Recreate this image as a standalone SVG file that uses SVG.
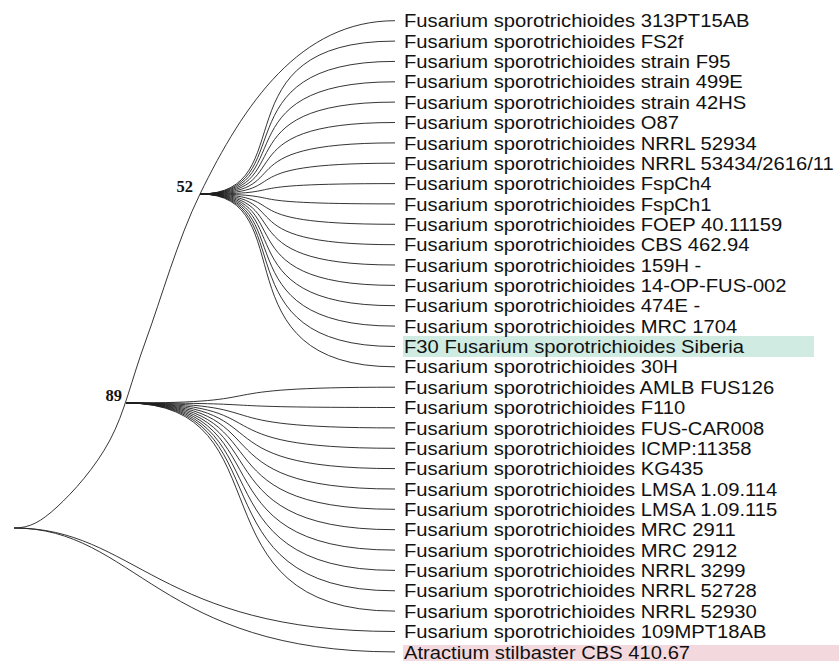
<svg xmlns="http://www.w3.org/2000/svg" width="839" height="661" viewBox="0 0 839 661">
<style>
.br{fill:none;stroke:#1e1e1e;stroke-width:0.9}
.lb{font-family:"Liberation Sans",Arial,sans-serif;font-size:18.7px;fill:#111}
.sup{font-family:"Liberation Serif","Times New Roman",serif;font-size:16.5px;font-weight:bold;fill:#111;text-anchor:end}
</style>
<rect width="839" height="661" fill="#fff"/>
<rect id="hl-green" x="403" y="336" width="411" height="21" fill="#d0ece2"/>
<rect id="hl-pink" x="403" y="645" width="436" height="16" fill="#f3d9de"/>
<g id="connectors">
<path class="br" d="M14,528 C30,528 41,521.7 57,507 C73,492.3 95.2,467.8 110,440 C124.8,412.2 131,381 146,340 C161,299 177.7,239.5 200,194 C244,104 300,20.7 395,20.7"/>
<path class="br" d="M200,194 C304,194 215,41.1 395,41.1"/>
<path class="br" d="M200,194 C304,194 215,61.4 395,61.4"/>
<path class="br" d="M200,194 C304,194 215,81.8 395,81.8"/>
<path class="br" d="M200,194 C304,194 215,102.1 395,102.1"/>
<path class="br" d="M200,194 C304,194 215,122.5 395,122.5"/>
<path class="br" d="M200,194 C304,194 215,142.9 395,142.9"/>
<path class="br" d="M200,194 C304,194 215,163.2 395,163.2"/>
<path class="br" d="M200,194 C304,194 215,183.6 395,183.6"/>
<path class="br" d="M200,194 C304,194 215,203.9 395,203.9"/>
<path class="br" d="M200,194 C304,194 215,224.3 395,224.3"/>
<path class="br" d="M200,194 C304,194 215,244.7 395,244.7"/>
<path class="br" d="M200,194 C304,194 215,265 395,265"/>
<path class="br" d="M200,194 C304,194 215,285.4 395,285.4"/>
<path class="br" d="M200,194 C304,194 215,305.7 395,305.7"/>
<path class="br" d="M200,194 C304,194 215,326.1 395,326.1"/>
<path class="br" d="M200,194 C304,194 215,346.5 395,346.5"/>
<path class="br" d="M200,194 C304,194 215,366.8 395,366.8"/>
<path class="br" d="M126,403 C289.5,403 186.5,387.2 395,387.2"/>
<path class="br" d="M126,403 C289.5,403 186.5,407.5 395,407.5"/>
<path class="br" d="M126,403 C289.5,403 186.5,427.9 395,427.9"/>
<path class="br" d="M126,403 C289.5,403 186.5,448.3 395,448.3"/>
<path class="br" d="M126,403 C289.5,403 186.5,468.6 395,468.6"/>
<path class="br" d="M126,403 C289.5,403 186.5,489 395,489"/>
<path class="br" d="M126,403 C289.5,403 186.5,509.3 395,509.3"/>
<path class="br" d="M126,403 C289.5,403 186.5,529.7 395,529.7"/>
<path class="br" d="M126,403 C289.5,403 186.5,550.1 395,550.1"/>
<path class="br" d="M126,403 C289.5,403 186.5,570.4 395,570.4"/>
<path class="br" d="M126,403 C289.5,403 186.5,590.8 395,590.8"/>
<path class="br" d="M126,403 C289.5,403 186.5,611.1 395,611.1"/>
<path class="br" d="M14,528 C135,528 158,631.5 395,631.5"/>
<path class="br" d="M14,528 C135,528 158,651.9 395,651.9"/>
</g>
<g id="node-52"><text class="sup" x="193" y="191.5">52</text></g>
<g id="node-89"><text class="sup" x="122" y="400.5">89</text></g>
<g id="leaves" transform="translate(404 0) scale(1.08 1)">
<g id="leaf-0"><text class="lb" x="0" y="27.4">Fusarium sporotrichioides 313PT15AB</text></g>
<g id="leaf-1"><text class="lb" x="0" y="47.8">Fusarium sporotrichioides FS2f</text></g>
<g id="leaf-2"><text class="lb" x="0" y="68.1">Fusarium sporotrichioides strain F95</text></g>
<g id="leaf-3"><text class="lb" x="0" y="88.5">Fusarium sporotrichioides strain 499E</text></g>
<g id="leaf-4"><text class="lb" x="0" y="108.8">Fusarium sporotrichioides strain 42HS</text></g>
<g id="leaf-5"><text class="lb" x="0" y="129.2">Fusarium sporotrichioides O87</text></g>
<g id="leaf-6"><text class="lb" x="0" y="149.6">Fusarium sporotrichioides NRRL 52934</text></g>
<g id="leaf-7"><text class="lb" x="0" y="169.9">Fusarium sporotrichioides NRRL 53434/2616/11</text></g>
<g id="leaf-8"><text class="lb" x="0" y="190.3">Fusarium sporotrichioides FspCh4</text></g>
<g id="leaf-9"><text class="lb" x="0" y="210.6">Fusarium sporotrichioides FspCh1</text></g>
<g id="leaf-10"><text class="lb" x="0" y="231">Fusarium sporotrichioides FOEP 40.11159</text></g>
<g id="leaf-11"><text class="lb" x="0" y="251.4">Fusarium sporotrichioides CBS 462.94</text></g>
<g id="leaf-12"><text class="lb" x="0" y="271.7">Fusarium sporotrichioides 159H -</text></g>
<g id="leaf-13"><text class="lb" x="0" y="292.1">Fusarium sporotrichioides 14-OP-FUS-002</text></g>
<g id="leaf-14"><text class="lb" x="0" y="312.4">Fusarium sporotrichioides 474E -</text></g>
<g id="leaf-15"><text class="lb" x="0" y="332.8">Fusarium sporotrichioides MRC 1704</text></g>
<g id="leaf-16"><text class="lb" x="0" y="353.2">F30 Fusarium sporotrichioides Siberia</text></g>
<g id="leaf-17"><text class="lb" x="0" y="373.5">Fusarium sporotrichioides 30H</text></g>
<g id="leaf-18"><text class="lb" x="0" y="393.9">Fusarium sporotrichioides AMLB FUS126</text></g>
<g id="leaf-19"><text class="lb" x="0" y="414.2">Fusarium sporotrichioides F110</text></g>
<g id="leaf-20"><text class="lb" x="0" y="434.6">Fusarium sporotrichioides FUS-CAR008</text></g>
<g id="leaf-21"><text class="lb" x="0" y="455">Fusarium sporotrichioides ICMP:11358</text></g>
<g id="leaf-22"><text class="lb" x="0" y="475.3">Fusarium sporotrichioides KG435</text></g>
<g id="leaf-23"><text class="lb" x="0" y="495.7">Fusarium sporotrichioides LMSA 1.09.114</text></g>
<g id="leaf-24"><text class="lb" x="0" y="516">Fusarium sporotrichioides LMSA 1.09.115</text></g>
<g id="leaf-25"><text class="lb" x="0" y="536.4">Fusarium sporotrichioides MRC 2911</text></g>
<g id="leaf-26"><text class="lb" x="0" y="556.8">Fusarium sporotrichioides MRC 2912</text></g>
<g id="leaf-27"><text class="lb" x="0" y="577.1">Fusarium sporotrichioides NRRL 3299</text></g>
<g id="leaf-28"><text class="lb" x="0" y="597.5">Fusarium sporotrichioides NRRL 52728</text></g>
<g id="leaf-29"><text class="lb" x="0" y="617.8">Fusarium sporotrichioides NRRL 52930</text></g>
<g id="leaf-30"><text class="lb" x="0" y="638.2">Fusarium sporotrichioides 109MPT18AB</text></g>
<g id="leaf-31"><text class="lb" x="0" y="658.6">Atractium stilbaster CBS 410.67</text></g>
</g>
</svg>
